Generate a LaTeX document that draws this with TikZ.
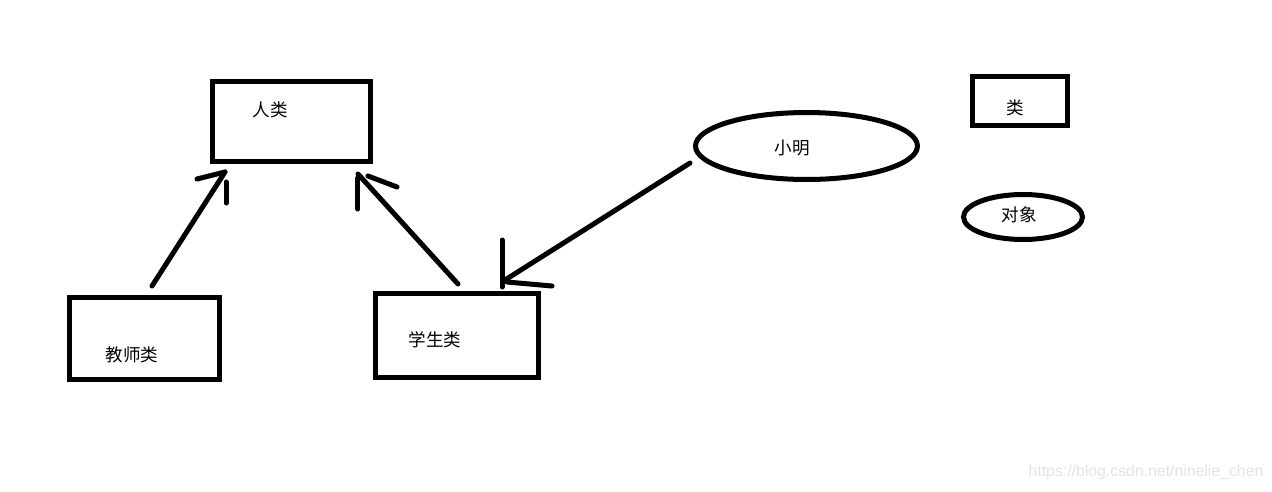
\documentclass[tikz,border=0pt]{standalone}
\usepackage{fontspec}
\newfontfamily\cjk{Noto Sans CJK SC}
\newfontfamily\wmfont{Liberation Sans}
\usepackage{tikz}
\usetikzlibrary{calc,shapes.geometric}

\tikzset{
  pen/.style={line width=2.85pt,line cap=round},
  box/.style={draw,line width=2.85pt,rectangle,inner sep=0pt},
  obj/.style={draw,line width=2.85pt,ellipse,inner sep=0pt},
  lbl/.style={font=\cjk\fontsize{10}{12}\selectfont,inner sep=0pt}
}

\begin{document}
\begin{tikzpicture}[x=0.02cm,y=-0.02cm]
  \useasboundingbox (0,0) rectangle (1272,491);
  % classes and objects
  \node[box,minimum width=3.16cm,minimum height=1.6cm] (human) at (291.5,121.5) {};
  \node[box,minimum width=3cm,minimum height=1.64cm] (teacher) at (144.5,338.5) {};
  \node[box,minimum width=3.26cm,minimum height=1.68cm] (student) at (457,335.5) {};
  \node[obj,minimum width=4.44cm,minimum height=1.34cm] (xm) at (806.5,146) {};
  \node[box,minimum width=1.9cm,minimum height=0.98cm] (cls) at (1020,101) {};
  \node[obj,minimum width=2.38cm,minimum height=0.9cm] (objkey) at (1023,217) {};
  \node[lbl] (humanlbl) at (270,110) {人类};
  \node[lbl] (teacherlbl) at (132,355) {教师类};
  \node[lbl] (studentlbl) at (435,340) {学生类};
  \node[lbl] (xmlbl) at (792,148) {小明};
  \node[lbl] (clslbl) at (1015,108) {类};
  \node[lbl] (objlbl) at (1019,215) {对象};
  % arrows, barbs drawn by hand
  \coordinate (tipT) at ([shift={(15,8)}]human.south west);
  \coordinate (tipS) at ([shift={(-15,10)}]human.south east);
  \coordinate (tipX) at ([shift={(132,-11)}]student.north west);
  \draw[pen] ([shift={(7.5,-9)}]teacher.north) -- (tipT);
  \draw[pen] ([shift={(-28,7)}]tipT) -- (tipT);
  \draw[pen] ([shift={(1,10)}]tipT) -- ++(0,21);
  \draw[pen] ([shift={(1,-7)}]student.north) -- (tipS);
  \draw[pen] ([shift={(10,2)}]tipS) -- ++(29,11);
  \draw[pen] ([shift={(0,4)}]tipS) -- ++(0,31);
  \draw[pen] ([shift={(-3,17)}]xm.west) -- (tipX);
  \draw[pen] ([shift={(-3,-40)}]tipX) -- ++(0,47);
  \draw[pen] ([shift={(2,2)}]tipX) -- ++(45,4);
  % watermark
  \node[font=\wmfont\fontsize{9}{10}\selectfont,text=gray!22,inner sep=0pt] (wm) at (1146,472) {https://blog.csdn.net/ninelie\_chen};
\end{tikzpicture}
\end{document}
